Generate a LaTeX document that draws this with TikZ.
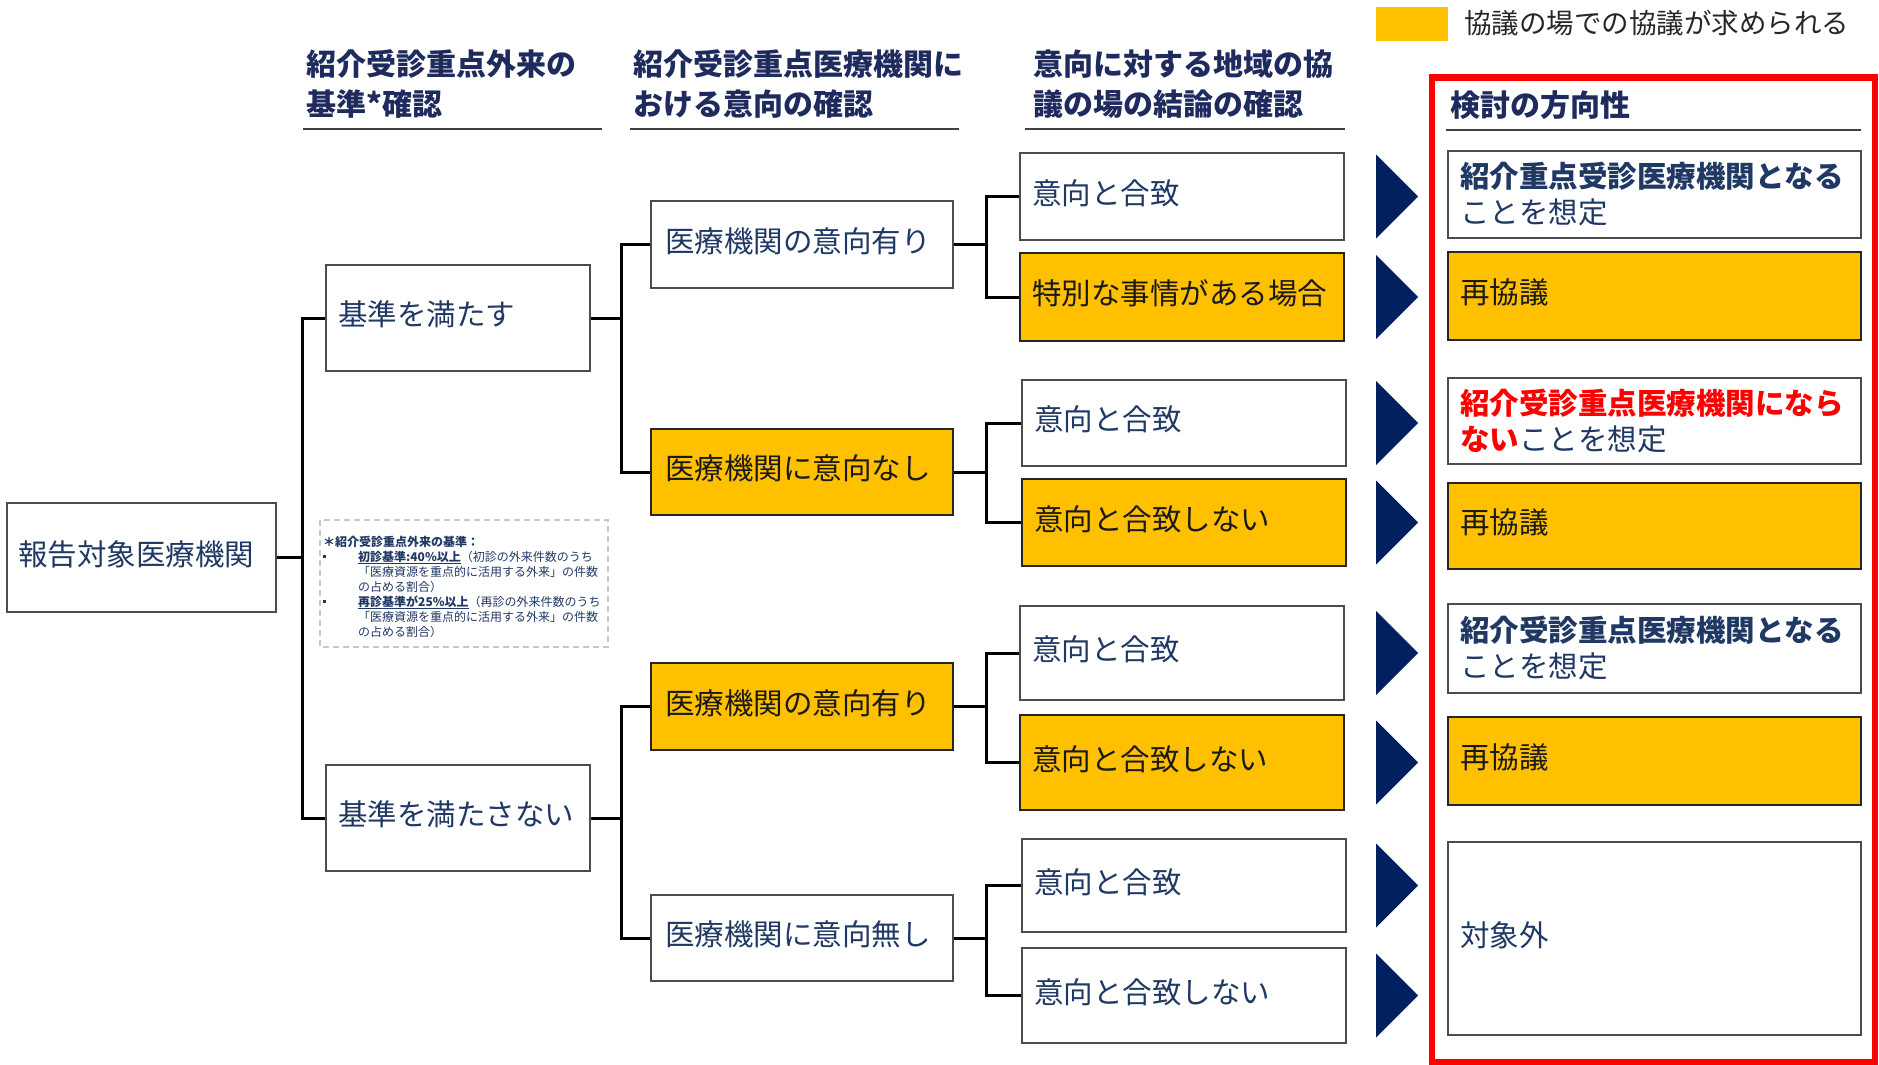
\documentclass[tikz,border=0pt]{standalone}
\usepackage{fontspec}
\setmainfont{Noto Sans CJK JP}
\XeTeXlinebreaklocale "ja"
\definecolor{orng}{HTML}{FFC000}
\definecolor{navy}{HTML}{002060}
\definecolor{txtnavy}{HTML}{203864}
\definecolor{hdrnavy}{HTML}{1F2B5E}
\definecolor{redc}{HTML}{FF0000}
\newcommand\bigf{\fontsize{29.5}{36}\selectfont}
\newcommand\hdrf{\fontsize{30}{39}\selectfont\bfseries}
\newcommand\notef{\fontsize{12}{15}\selectfont}
\newcommand\bul{\makebox[35pt][l]{\rule[3pt]{3pt}{3pt}}}
\begin{document}
\begin{tikzpicture}[x=1pt,y=-1pt,
  box/.style={draw=black!70, line width=2, text=txtnavy, font=\bigf, align=left, inner xsep=12, inner ysep=0, fill=white, text height=22, text depth=7},
  obox/.style={box, fill=orng, draw=black!85, text=black!90},
  multi/.style={text height={}, text depth={}},
  conn/.style={draw=black, line width=3},
  hdr/.style={font=\hdrf, text=hdrnavy, anchor=base west, inner sep=0},
  uline/.style={draw=black!75, line width=2.5},
  tri/.style={fill=navy}]
\useasboundingbox (0,0) rectangle (1879,1065);

% legend
\fill[orng] (1376,7) rectangle (1448,41);
\node[anchor=base west, inner sep=0, font=\fontsize{27.5}{30}\selectfont, text=black!85] (leg) at (1464,34) {協議の場での協議が求められる};

% headers
\node[hdr] (h1a) at (306,75) {紹介受診重点外来の};
\node[hdr] (h1b) at (306,115) {基準*確認};
\node[hdr] (h2a) at (633,75) {紹介受診重点医療機関に};
\node[hdr] (h2b) at (633,115) {おける意向の確認};
\node[hdr] (h3a) at (1033,75) {意向に対する地域の協};
\node[hdr] (h3b) at (1033,115) {議の場の結論の確認};
\node[hdr] (h4) at (1450,116) {検討の方向性};
\draw[uline] (303,129) -- (602,129);
\draw[uline] (630,129) -- (959,129);
\draw[uline] (1025,129) -- (1345,129);
\draw[uline] (1446,130) -- (1861,130);

% red frame
\draw[draw=redc, line width=6] (1431.5,77.5) rectangle (1874.5,1061.5);

% root and column 1
\node[box, minimum width=269, minimum height=109, text width=247, inner xsep=11] (root) at (141.5,557.5) {報告対象医療機関};
\node[box, minimum width=264, minimum height=106, text width=240] (k1) at (458,318) {基準を満たす};
\node[box, minimum width=264, minimum height=106, text width=240] (k2) at (458,818) {基準を満たさない};

% column 2
\node[box, minimum width=302, minimum height=87, text width=274, inner xsep=14] (a1) at (802,244.5) {医療機関の意向有り};
\node[obox, minimum width=302, minimum height=86, text width=274, inner xsep=14] (a2) at (802,472) {医療機関に意向なし};
\node[obox, minimum width=302, minimum height=87, text width=274, inner xsep=14] (a3) at (802,706.5) {医療機関の意向有り};
\node[box, minimum width=302, minimum height=86, text width=274, inner xsep=14] (a4) at (802,938) {医療機関に意向無し};

% column 3
\node[box, minimum width=324, minimum height=87, text width=300] (b1) at (1182,196.5) {意向と合致};
\node[obox, minimum width=324, minimum height=88, text width=300] (b2) at (1182,297) {特別な事情がある場合};
\node[box, minimum width=324, minimum height=86, text width=300] (b3) at (1184,423) {意向と合致};
\node[obox, minimum width=324, minimum height=87, text width=300] (b4) at (1184,522.5) {意向と合致しない};
\node[box, minimum width=324, minimum height=94, text width=300] (b5) at (1182,653) {意向と合致};
\node[obox, minimum width=324, minimum height=95, text width=300] (b6) at (1182,762.5) {意向と合致しない};
\node[box, minimum width=324, minimum height=93, text width=300] (b7) at (1184,885.5) {意向と合致};
\node[box, minimum width=324, minimum height=95, text width=300] (b8) at (1184,995.5) {意向と合致しない};

% column 4
\node[box, multi, minimum width=413, minimum height=87, text width=389] (c1) at (1654.5,194.5) {{\bfseries 紹介重点受診医療機関となる}\\ことを想定};
\node[obox, minimum width=413, minimum height=88, text width=389] (c2) at (1654.5,296) {再協議};
\node[box, multi, minimum width=413, minimum height=86, text width=389] (c3) at (1654.5,421) {{\color{redc}\bfseries 紹介受診重点医療機関になら}\\{\color{redc}\bfseries ない}ことを想定};
\node[obox, minimum width=413, minimum height=86, text width=389] (c4) at (1654.5,526) {再協議};
\node[box, multi, minimum width=413, minimum height=89, text width=389] (c5) at (1654.5,648.5) {{\bfseries 紹介受診重点医療機関となる}\\ことを想定};
\node[obox, minimum width=413, minimum height=88, text width=389] (c6) at (1654.5,761) {再協議};
\node[box, minimum width=413, minimum height=193, text width=389] (c7) at (1654.5,938.5) {対象外};

% connectors
\draw[conn] (root.east) -- ++(25,0) coordinate (j0);
\draw[conn] (j0) |- (k1.west);
\draw[conn] (j0) |- (k2.west);
\draw[conn] (k1.east) -- ++(30,0) coordinate (j1);
\draw[conn] (j1) |- (a1.west);
\draw[conn] (j1) |- (a2.west);
\draw[conn] (k2.east) -- ++(30,0) coordinate (j2);
\draw[conn] (j2) |- (a3.west);
\draw[conn] (j2) |- (a4.west);
\draw[conn] (a1.east) -- ++(32,0) coordinate (j3);
\draw[conn] (j3) |- (b1.west);
\draw[conn] (j3) |- (b2.west);
\draw[conn] (a2.east) -- ++(32,0) coordinate (j4);
\draw[conn] (j4) |- (b3.west);
\draw[conn] (j4) |- (b4.west);
\draw[conn] (a3.east) -- ++(32,0) coordinate (j5);
\draw[conn] (j5) |- (b5.west);
\draw[conn] (j5) |- (b6.west);
\draw[conn] (a4.east) -- ++(32,0) coordinate (j6);
\draw[conn] (j6) |- (b7.west);
\draw[conn] (j6) |- (b8.west);

% triangles
\foreach \c in {196.5,297,423,522.5,653,762.5,885.5,995.5}{
  \fill[tri] (1376,\c-42) -- (1418,\c) -- (1376,\c+42) -- cycle;
}

% note
\draw[draw=black!22, line width=1.5, dash pattern=on 6pt off 4pt] (320,520) rectangle (608,647);
\node[anchor=base west, inner sep=0, text width=290, align=left, font=\notef, text=txtnavy] (note) at (323,546) {%
{\bfseries ＊紹介受診重点外来の基準：}\\
\bul\underline{\bfseries 初診基準:40\%以上}（初診の外来件数のうち\\
\hspace*{35pt}「医療資源を重点的に活用する外来」の件数\\
\hspace*{35pt}の占める割合）\\
\bul\underline{\bfseries 再診基準が25\%以上}（再診の外来件数のうち\\
\hspace*{35pt}「医療資源を重点的に活用する外来」の件数\\
\hspace*{35pt}の占める割合）};
\end{tikzpicture}
\end{document}
